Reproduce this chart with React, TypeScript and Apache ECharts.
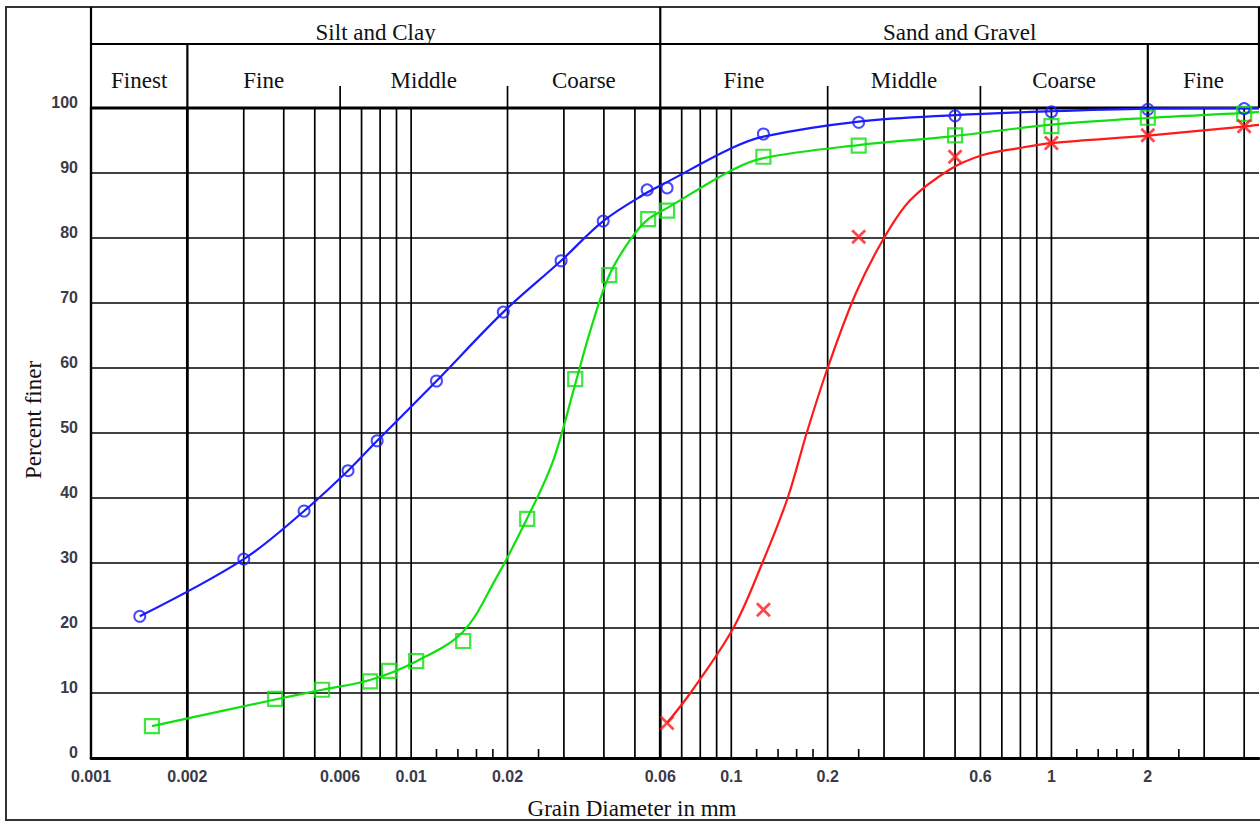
import React, { useEffect, useRef } from "react";
import * as echarts from "echarts";

// ---- axis range ----
const X_MIN = 0.001;
const X_MAX = 4.45;

// ---- x tick labels ----
const xLabelValues = [0.001, 0.002, 0.006, 0.01, 0.02, 0.06, 0.1, 0.2, 0.6, 1, 2];

// ---- vertical grid lines ----
const gridThick = [0.002, 0.06, 2];
const gridThin = [
  0.003, 0.004, 0.005, 0.006, 0.007, 0.008, 0.009, 0.01, 0.02, 0.03, 0.04, 0.05,
  0.07, 0.08, 0.09, 0.1, 0.2, 0.3, 0.4, 0.5, 0.6, 0.7, 0.8, 0.9, 1, 3, 4,
];
const shortTicks = [0.012, 0.014, 0.016, 0.018, 0.025, 0.12, 0.14, 0.16, 0.18, 0.25, 1.2, 1.4, 1.6, 1.8, 2.5];

// ---- header bands ----
const upperBandNames = ["Silt and Clay", "Sand and Gravel"];
const upperBandEdges = [0.001, 0.06, 4.45];
const lowerBandNames = ["Finest", "Fine", "Middle", "Coarse", "Fine", "Middle", "Coarse", "Fine"];
const lowerBandEdges = [0.001, 0.002, 0.006, 0.02, 0.06, 0.2, 0.6, 2, 4.45];
const headerFullDividers = [0.001, 0.06, 4.45];
const headerMidDividers = [0.002, 2];
const headerShortDividers = [0.006, 0.02, 0.2, 0.6];

// ---- blue sample (circles) ----
const blueX = [0.00142, 0.003, 0.00463, 0.00635, 0.00783, 0.012, 0.0194, 0.0294, 0.0398, 0.0546, 0.063, 0.126, 0.25, 0.5, 1, 2, 4];
const blueY = [21.8, 30.6, 38.0, 44.2, 48.8, 58.0, 68.6, 76.5, 82.6, 87.4, 87.7, 96.0, 97.8, 98.8, 99.4, 99.8, 99.9];
const blueCurveX = [0.00142, 0.003, 0.00463, 0.00635, 0.00783, 0.012, 0.0194, 0.0294, 0.0398, 0.0546, 0.063, 0.1, 0.126, 0.25, 0.5, 1, 2, 4, 4.45];
const blueCurveY = [21.8, 30.6, 38.0, 44.2, 48.8, 58.0, 68.6, 76.5, 82.6, 87.0, 88.6, 93.8, 95.6, 97.9, 98.9, 99.5, 99.9, 100, 100];

// ---- green sample (squares) ----
const greenX = [0.00155, 0.00376, 0.00527, 0.00744, 0.00853, 0.01037, 0.01454, 0.02304, 0.03255, 0.04156, 0.055, 0.063, 0.126, 0.25, 0.5, 1, 2, 4];
const greenY = [4.9, 9.1, 10.5, 11.8, 13.4, 14.9, 18.0, 36.8, 58.3, 74.3, 82.9, 84.2, 92.5, 94.2, 95.8, 97.2, 98.5, 99.1];
const greenCurveX = [0.00155, 0.00376, 0.00527, 0.00744, 0.0104, 0.0145, 0.0183, 0.023, 0.0278, 0.0325, 0.0363, 0.0416, 0.0483, 0.055, 0.063, 0.1, 0.126, 0.25, 0.48, 0.98, 2.04, 3.9, 4.45];
const greenCurveY = [4.9, 9.0, 10.5, 12.0, 14.9, 19.4, 27.4, 36.8, 45.8, 57.4, 65.8, 74.3, 79.7, 82.9, 84.6, 90.4, 92.3, 94.3, 95.6, 97.4, 98.5, 99.2, 99.4];

// ---- red sample (crosses) ----
const redX = [0.063, 0.126, 0.25, 0.5, 1, 2, 4];
const redY = [5.4, 22.8, 80.2, 92.5, 94.6, 95.8, 97.2];
const redCurveX = [0.063, 0.0745, 0.1015, 0.125, 0.15, 0.172, 0.2, 0.245, 0.3, 0.362, 0.48, 0.613, 0.783, 1.0, 2.04, 3.9, 4.45];
const redCurveY = [5.4, 10, 20, 30, 40, 50, 60, 71.5, 80, 85.8, 90.5, 92.8, 93.8, 94.6, 95.8, 97.1, 97.4];

const BLUE = "#1a1aff";
const GREEN = "#10e010";
const RED = "#ff1a1a";
const INK = "#000";
const LABEL = "#3a3a48";
const SERIF = "'Liberation Serif', 'Times New Roman', serif";
const SANS = "'Liberation Sans', Arial, sans-serif";

const zip = (xs: number[], ys: number[]) => xs.map((x, i) => [x, ys[i]]);

export default function App() {
  const ref = useRef<HTMLDivElement>(null);

  useEffect(() => {
    document.body.style.margin = "0";
    const chart = echarts.init(ref.current!, null, { renderer: "svg" });

    const vLine = (api: any, x: number, yTopOffset: number, yFrom: number | null, width: number) => {
      const pTop = api.coord([x, 100]);
      const pBot = api.coord([x, 0]);
      const y1 = yFrom === null ? pBot[1] : pTop[1] - yFrom;
      return {
        type: "line",
        shape: { x1: pTop[0], y1, x2: pTop[0], y2: pTop[1] - yTopOffset },
        style: { stroke: INK, lineWidth: width },
      };
    };

    const option: any = {
      animation: false,
      backgroundColor: "#fff",
      grid: { left: 91, top: 108, width: 1168, height: 650, containLabel: false },
      graphic: [
        {
          type: "rect",
          silent: true,
          shape: { x: 6, y: 7, width: 1280, height: 813 },
          style: { fill: "none", stroke: "#333", lineWidth: 2 },
        },
        {
          type: "text",
          silent: true,
          x: 632,
          y: 808,
          style: {
            text: "Grain Diameter in mm",
            fill: "#111",
            fontFamily: SERIF,
            fontSize: 23,
            align: "center",
            verticalAlign: "middle",
          },
        },
        {
          type: "text",
          silent: true,
          x: 33,
          y: 420,
          rotation: Math.PI / 2,
          style: {
            text: "Percent finer",
            fill: "#111",
            fontFamily: SERIF,
            fontSize: 23,
            align: "center",
            verticalAlign: "middle",
          },
        },
      ],
      xAxis: {
        type: "log",
        logBase: 10,
        min: X_MIN,
        max: X_MAX,
        axisLine: { show: true, onZero: false, lineStyle: { color: INK, width: 2.8 } },
        axisTick: { show: false },
        axisLabel: { show: false },
        splitLine: { show: false },
        minorTick: { show: false },
        minorSplitLine: { show: false },
      },
      yAxis: {
        type: "value",
        min: 0,
        max: 100,
        interval: 10,
        axisLine: { show: true, lineStyle: { color: INK, width: 2.4 } },
        axisTick: { show: false },
        axisLabel: {
          fontFamily: SANS,
          fontSize: 16,
          fontWeight: "bold",
          color: LABEL,
          margin: 13,
          verticalAlign: "bottom",
          lineHeight: 11,
        },
        splitLine: { show: true, lineStyle: { color: INK, width: 1.7 } },
      },
      series: [
        // thin vertical grid lines
        {
          type: "custom",
          z: 1,
          silent: true,
          clip: false,
          data: gridThin.map((v) => [v, 0]),
          renderItem: (_p: any, api: any) => vLine(api, api.value(0), 0, null, 1.7),
        },
        // thick vertical grid lines
        {
          type: "custom",
          z: 1,
          silent: true,
          clip: false,
          data: gridThick.map((v) => [v, 0]),
          renderItem: (_p: any, api: any) => vLine(api, api.value(0), 0, null, 2.8),
        },
        // short ticks on the bottom axis
        {
          type: "custom",
          z: 1,
          silent: true,
          clip: false,
          data: shortTicks.map((v) => [v, 0]),
          renderItem: (_p: any, api: any) => {
            const p = api.coord([api.value(0), 0]);
            return {
              type: "line",
              shape: { x1: p[0], y1: p[1], x2: p[0], y2: p[1] - 9 },
              style: { stroke: INK, lineWidth: 1.6 },
            };
          },
        },
        // x tick labels
        {
          type: "custom",
          z: 2,
          silent: true,
          clip: false,
          data: xLabelValues.map((v) => [v, 0]),
          renderItem: (p: any, api: any) => {
            const c = api.coord([api.value(0), 0]);
            return {
              type: "text",
              x: c[0],
              y: c[1] + 18,
              style: {
                text: String(xLabelValues[p.dataIndex]),
                fill: LABEL,
                fontFamily: SANS,
                fontSize: 16,
                fontWeight: "bold",
                align: "center",
                verticalAlign: "middle",
              },
            };
          },
        },
        // header: dividers
        {
          type: "custom",
          z: 2,
          silent: true,
          clip: false,
          data: headerFullDividers.map((v) => [v, 100]),
          renderItem: (_p: any, api: any) => vLine(api, api.value(0), 101, 0, 2.2),
        },
        {
          type: "custom",
          z: 2,
          silent: true,
          clip: false,
          data: headerMidDividers.map((v) => [v, 100]),
          renderItem: (_p: any, api: any) => vLine(api, api.value(0), 64, 0, 2.2),
        },
        {
          type: "custom",
          z: 2,
          silent: true,
          clip: false,
          data: headerShortDividers.map((v) => [v, 100]),
          renderItem: (_p: any, api: any) => vLine(api, api.value(0), 22, 0, 1.7),
        },
        // header upper band: texts + rules
        {
          type: "custom",
          z: 2,
          silent: true,
          clip: false,
          data: upperBandNames.map((_n, i) => [upperBandEdges[i], 100, upperBandEdges[i + 1]]),
          renderItem: (p: any, api: any) => {
            const a = api.coord([api.value(0), 100]);
            const b = api.coord([api.value(2), 100]);
            return {
              type: "group",
              children: [
                {
                  type: "line",
                  shape: { x1: a[0], y1: a[1] - 64, x2: b[0], y2: a[1] - 64 },
                  style: { stroke: INK, lineWidth: 2.2 },
                },
                {
                  type: "line",
                  shape: { x1: a[0], y1: a[1], x2: b[0], y2: a[1] },
                  style: { stroke: INK, lineWidth: 2.8 },
                },
                {
                  type: "text",
                  x: (a[0] + b[0]) / 2,
                  y: a[1] - 76,
                  style: {
                    text: upperBandNames[p.dataIndex],
                    fill: "#111",
                    fontFamily: SERIF,
                    fontSize: 23,
                    align: "center",
                    verticalAlign: "middle",
                  },
                },
              ],
            };
          },
        },
        // header lower band texts
        {
          type: "custom",
          z: 2,
          silent: true,
          clip: false,
          data: lowerBandNames.map((_n, i) => [lowerBandEdges[i], 100, lowerBandEdges[i + 1]]),
          renderItem: (p: any, api: any) => {
            const a = api.coord([api.value(0), 100]);
            const b = api.coord([api.value(2), 100]);
            return {
              type: "text",
              x: (a[0] + b[0]) / 2,
              y: a[1] - 28,
              style: {
                text: lowerBandNames[p.dataIndex],
                fill: "#111",
                fontFamily: SERIF,
                fontSize: 23,
                align: "center",
                verticalAlign: "middle",
              },
            };
          },
        },
        // fitted curves
        {
          type: "line",
          z: 3,
          data: zip(blueCurveX, blueCurveY),
          smooth: 0.35,
          showSymbol: false,
          lineStyle: { color: BLUE, width: 2.2 },
          silent: true,
        },
        {
          type: "line",
          z: 3,
          data: zip(greenCurveX, greenCurveY),
          smooth: 0.35,
          showSymbol: false,
          lineStyle: { color: GREEN, width: 2.2 },
          silent: true,
        },
        {
          type: "line",
          z: 3,
          data: zip(redCurveX, redCurveY),
          smooth: 0.35,
          showSymbol: false,
          lineStyle: { color: RED, width: 2.2 },
          silent: true,
        },
        // markers
        {
          type: "scatter",
          z: 4,
          data: zip(blueX, blueY),
          symbol: "circle",
          symbolSize: 11,
          itemStyle: { color: "rgba(0,0,0,0)", borderColor: BLUE, borderWidth: 2 },
          silent: true,
        },
        {
          type: "scatter",
          z: 4,
          data: zip(greenX, greenY),
          symbol: "rect",
          symbolSize: 14,
          itemStyle: { color: "rgba(0,0,0,0)", borderColor: GREEN, borderWidth: 2.2 },
          silent: true,
        },
        {
          type: "scatter",
          z: 4,
          data: zip(redX, redY),
          symbol: "path://M0,1.3L1.3,0L5,3.7L8.7,0L10,1.3L6.3,5L10,8.7L8.7,10L5,6.3L1.3,10L0,8.7L3.7,5Z",
          symbolSize: 15,
          itemStyle: { color: RED },
          silent: true,
        },
      ],
    };

    chart.setOption(option);
    return () => chart.dispose();
  }, []);

  return <div ref={ref} style={{ width: 1260, height: 823 }} />;
}
